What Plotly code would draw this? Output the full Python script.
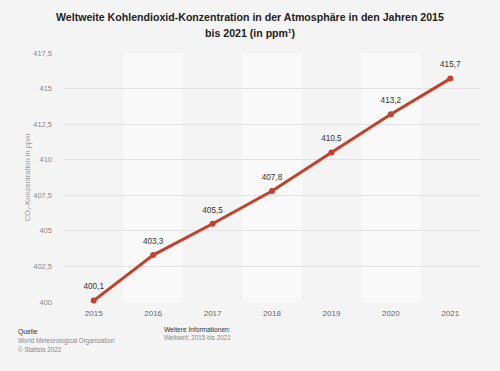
import plotly.graph_objects as go

years = ["2015", "2016", "2017", "2018", "2019", "2020", "2021"]
co2_ppm = [400.1, 403.3, 405.5, 407.8, 410.5, 413.2, 415.7]
y_ticks = [400, 402.5, 405, 407.5, 410, 412.5, 415, 417.5]

labels = [f"{v:.1f}".replace(".", ",") for v in co2_ppm]
tick_text = [(f"{t:g}").replace(".", ",") for t in y_ticks]

fig = go.Figure()
fig.add_trace(go.Scatter(
    x=years, y=co2_ppm, mode="lines+markers",
    line=dict(color="#c4402b", width=3),
    marker=dict(color="#c4402b", size=6),
    cliponaxis=False, hoverinfo="skip",
))
fig.add_trace(go.Scatter(
    x=years, y=co2_ppm, mode="markers+text",
    marker=dict(color="rgba(0,0,0,0)", size=13),
    text=labels, textposition="top center",
    textfont=dict(family="Liberation Sans, Arial", size=8.2, color="#333333"),
    cliponaxis=False, hoverinfo="skip",
))

shapes = []
for i in (1, 3, 5):
    shapes.append(dict(type="rect", xref="x", yref="paper", x0=i - 0.5, x1=i + 0.5,
                       y0=0, y1=1, fillcolor="#f9f9f9", line=dict(width=0), layer="below"))

title_font = dict(family="Liberation Sans, Arial", size=10.6, color="#222222")
cx = (250 - 64) / 416
fx1 = (17 - 64) / 416
fx2 = (163 - 64) / 416


def foot(text, x, yshift, size, color):
    return dict(text=text, xref="paper", yref="paper", x=x, xanchor="left",
                y=0, yanchor="middle", yshift=yshift, showarrow=False, align="left",
                borderpad=0, font=dict(size=size, color=color))


fig.update_layout(
    width=500, height=371,
    paper_bgcolor="#f4f4f4", plot_bgcolor="#f4f4f4",
    margin=dict(l=64, r=20, t=53, b=69, autoexpand=False),
    showlegend=False,
    shapes=shapes,
    font=dict(family="Liberation Sans, Arial", color="#666666"),
    xaxis=dict(type="category", range=[-0.5, 6.5], showgrid=False, zeroline=False,
               showline=False, ticks="", tickfont=dict(size=8, color="#666666"),
               ticklabelstandoff=5, automargin=False, fixedrange=True),
    yaxis=dict(range=[400, 417.5], tickvals=y_ticks, ticktext=tick_text,
               showgrid=True, gridcolor="#e2e2e2", gridwidth=1, zeroline=False,
               showline=False, ticks="", tickfont=dict(size=7.5, color="#888888"),
               ticklabelstandoff=11, automargin=False, fixedrange=True),
    annotations=[
        dict(text="<b>Weltweite Kohlendioxid-Konzentration in der Atmosphäre in den Jahren 2015</b>",
             xref="paper", yref="paper", x=cx, xanchor="center",
             y=1, yanchor="middle", yshift=36, showarrow=False, font=title_font),
        dict(text="<b>bis 2021 (in ppm¹)</b>",
             xref="paper", yref="paper", x=cx, xanchor="center",
             y=1, yanchor="middle", yshift=20, showarrow=False, font=title_font),
        dict(text="CO₂-Konzentration in ppm", xref="paper", yref="paper",
             x=-0.087, xanchor="center", y=0.5, yanchor="middle", textangle=-90,
             showarrow=False, font=dict(size=7.5, color="#999999")),
        foot("Quelle", fx1, -30, 6.8, "#333333"),
        foot("World Meteorological Organization", fx1, -39, 6.3, "#888888"),
        foot("© Statista 2022", fx1, -47, 6.3, "#888888"),
        foot("Weitere Informationen:", fx2, -27, 6.6, "#333333"),
        foot("Weltweit; 2015 bis 2021", fx2, -35, 6.3, "#888888"),
    ],
)

fig.write_html("out.html", config={"displayModeBar": False},
               post_script="document.body.style.margin='0';document.body.style.background='#f4f4f4';")
